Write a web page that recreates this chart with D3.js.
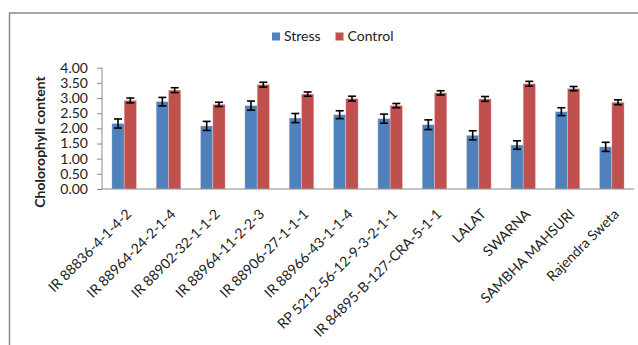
<!DOCTYPE html>
<html><head><meta charset="utf-8">
<script src="https://cdn.jsdelivr.net/npm/d3@7"></script>
<style>body{margin:0;background:#fff}svg{display:block}text{font-family:Lato,"Open Sans",sans-serif;fill:#222}</style>
</head><body><svg id="c" width="638" height="345"></svg>
<script>
const categories = ["IR 88836-4-1-4-2","IR 88964-24-2-1-4","IR 88902-32-1-1-2","IR 88964-11-2-2-3","IR 88906-27-1-1-1","IR 88966-43-1-1-4","RP 5212-56-12-9-3-2-1-1","IR 84895-B-127-CRA-5-1-1","LALAT","SWARNA","SAMBHA MAHSURI","Rajendra Sweta"];
const seriesNames = ["Stress","Control"];
const stress = [2.16,2.88,2.08,2.75,2.34,2.45,2.32,2.12,1.77,1.45,2.55,1.39];
const control = [2.92,3.26,2.79,3.44,3.13,2.98,2.75,3.17,2.97,3.47,3.31,2.86];
const stressErr = [0.15,0.14,0.15,0.15,0.15,0.13,0.15,0.16,0.15,0.14,0.13,0.15];
const controlErr = [0.08,0.08,0.07,0.08,0.07,0.08,0.07,0.07,0.08,0.08,0.07,0.08];
const yTicks = [0,0.5,1,1.5,2,2.5,3,3.5,4];
const colors = ["#4F81BD","#C0504D"];

const svg = d3.select("#c");
// outer border (extends beyond picture)
svg.append("rect").attr("x",9.5).attr("y",13).attr("width",700).attr("height",400)
  .attr("fill","none").attr("stroke","#8a8a8a").attr("stroke-width",1.5);

const x0 = d3.scaleBand().domain(categories).range([102,634]).paddingInner(0).paddingOuter(0);
const groupW = x0.bandwidth()*0.555;
const x1 = d3.scaleBand().domain(seriesNames).range([0,groupW]);
const y = d3.scaleLinear().domain([0,4]).range([189,67.7]);

const data = categories.map((c,i)=>({c, vals:[
  {s:"Stress",v:stress[i],e:stressErr[i],col:colors[0]},
  {s:"Control",v:control[i],e:controlErr[i],col:colors[1]}]}));

// y axis
const yAxis = d3.axisLeft(y).tickValues(yTicks).tickFormat(d3.format(".2f")).tickSize(5).tickPadding(9);
const ga = svg.append("g").attr("transform","translate(102,0)").call(yAxis);
ga.selectAll("path,line").attr("stroke","#8a8a8a");
ga.select(".domain").attr("d","M0,"+y(4)+"V"+y(0));
ga.selectAll("text").attr("font-size","14px").style("font-family","Lato").attr("fill","#222");

// bars
const g = svg.append("g").selectAll("g").data(data).join("g")
  .attr("transform",d=>`translate(${x0(d.c)+(x0.bandwidth()-groupW)/2},0)`);
g.selectAll("rect").data(d=>d.vals).join("rect")
  .attr("x",d=>x1(d.s)).attr("width",x1.bandwidth())
  .attr("y",d=>y(d.v)).attr("height",d=>y(0)-y(d.v))
  .attr("fill",d=>d.col).attr("stroke","#f3dede").attr("stroke-width",0.6).attr("stroke-opacity",0.6);
// error bars
const eb = g.selectAll("g.eb").data(d=>d.vals).join("g").attr("class","eb");
eb.append("line").attr("x1",d=>x1(d.s)+x1.bandwidth()/2).attr("x2",d=>x1(d.s)+x1.bandwidth()/2)
  .attr("y1",d=>y(d.v+d.e)).attr("y2",d=>y(d.v-d.e)).attr("stroke","#000").attr("stroke-width",1.6);
[1,-1].forEach(s=>{
  eb.append("line").attr("x1",d=>x1(d.s)+x1.bandwidth()/2-4).attr("x2",d=>x1(d.s)+x1.bandwidth()/2+4)
    .attr("y1",d=>y(d.v+s*d.e)).attr("y2",d=>y(d.v+s*d.e)).attr("stroke","#000").attr("stroke-width",1.6);
});

// x axis line
svg.append("line").attr("x1",102).attr("x2",634).attr("y1",189).attr("y2",189).attr("stroke","#8a8a8a").attr("stroke-width",1.2);

// x labels
svg.append("g").selectAll("text").data(categories).join("text")
  .attr("transform",d=>`translate(${x0(d)+x0.bandwidth()/2+8},215) rotate(-45)`)
  .attr("text-anchor","end").attr("font-size","14px").text(d=>d);

// y title
svg.append("text").attr("transform","translate(45,142) rotate(-90)").attr("text-anchor","middle")
  .attr("font-size","14px").attr("font-weight","bold").text("Cholorophyll content");

// legend
const leg = [{n:"Stress",x:272,c:colors[0]},{n:"Control",x:335.5,c:colors[1]}];
const lg = svg.append("g").selectAll("g").data(leg).join("g");
lg.append("rect").attr("x",d=>d.x).attr("y",32.5).attr("width",8).attr("height",8).attr("fill",d=>d.c);
lg.append("text").attr("x",d=>d.x+12).attr("y",41).attr("font-size","14px").text(d=>d.n);
</script></body></html>
